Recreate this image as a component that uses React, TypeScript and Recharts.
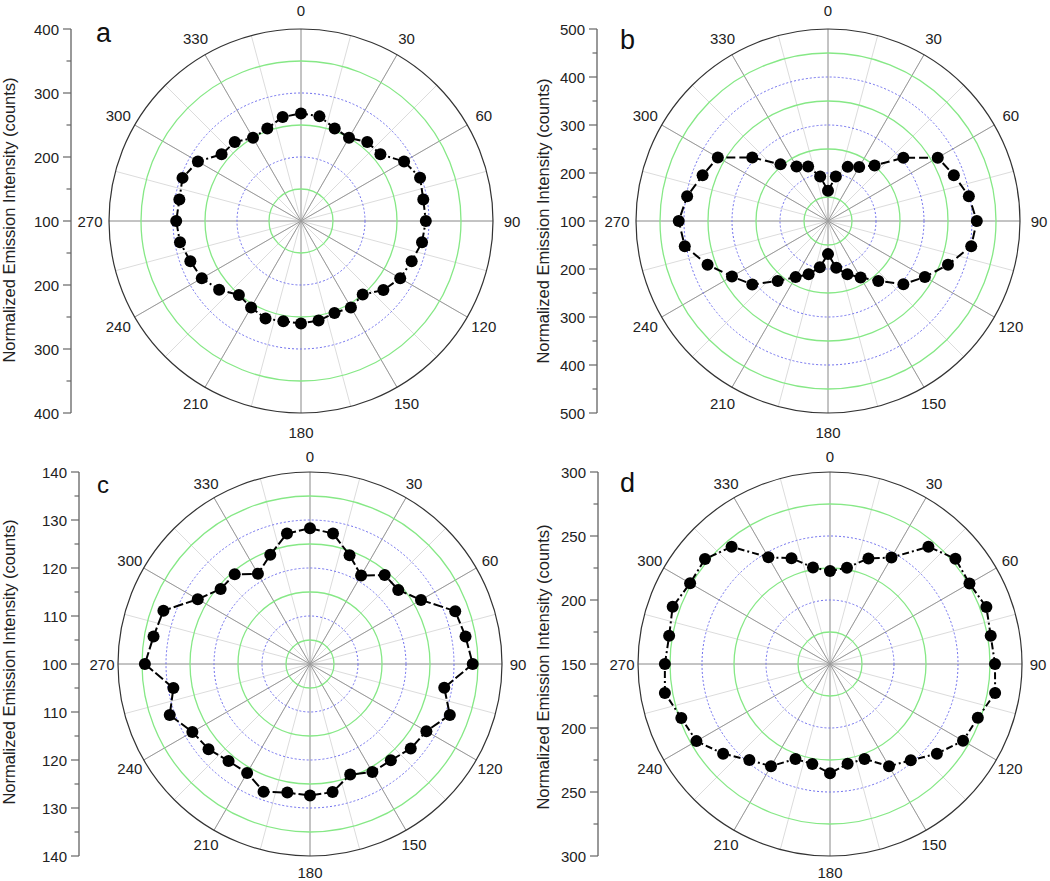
// Polar emission plots (a-d) - RadarChart with numeric angle axis
import {
    RadarChart, Radar, PolarGrid, PolarAngleAxis, PolarRadiusAxis,
    LineChart, YAxis,
} from 'recharts';

const angles = [0, 10, 20, 30, 40, 50, 60, 70, 80, 90, 100, 110, 120, 130, 140, 150, 160, 170,
    180, 190, 200, 210, 220, 230, 240, 250, 260, 270, 280, 290, 300, 310, 320, 330, 340, 350];

const intensityA = [268, 266, 254, 250, 261, 262, 286, 298, 294, 295, 292, 284, 279, 268, 250, 256, 253, 258,
    260, 259, 262, 256, 251, 267, 279, 284, 292, 295, 293, 297, 286, 262, 261, 250, 254, 265];
const intensityB = [163, 194, 220, 230, 251, 305, 364, 379, 398, 410, 403, 366, 333, 305, 263, 236, 218, 199,
    169, 198, 218, 235, 263, 306, 331, 367, 403, 411, 398, 378, 365, 306, 254, 231, 221, 194];
const intensityC = [128.3, 127.6, 124.1, 121.3, 124.2, 124.0, 126.7, 132.2, 132.9, 133.9, 128.4, 131.0, 128.0, 127.4, 126.2, 126.0, 124.5, 127.1,
    127.4, 127.2, 128.3, 126.2, 126.4, 127.6, 128.3, 131.1, 128.9, 134.4, 133.1, 132.5, 127.0, 124.3, 124.4, 121.7, 124.2, 127.6];
const intensityD = [222.7, 226.3, 237.8, 246.0, 269.6, 277.9, 275.8, 280.0, 277.5, 278.9, 281.0, 272.9, 270.0, 259.0, 248.2, 242.2, 228.9, 229.2,
    235.4, 229.4, 228.9, 242.2, 248.0, 259.0, 270.5, 273.6, 281.0, 279.0, 277.6, 280.8, 276.2, 277.5, 269.6, 246.2, 238.0, 226.5];

const spokesMajor = [0, 30, 60, 90, 120, 150, 180, 210, 240, 270, 300, 330];
const spokesMinor = [0, 15, 30, 45, 60, 75, 90, 105, 120, 135, 150, 165, 180, 195, 210, 225, 240, 255, 270, 285, 300, 315, 330, 345];

const ringsMajorA = [200, 300];
const ringsMinorA = [150, 250, 350];
const ringsMajorB = [200, 300, 400];
const ringsMinorB = [150, 250, 350, 450];
const ringsMajorC = [110, 120, 130];
const ringsMinorC = [105, 115, 125, 135];
const ringsMajorD = [200, 250];
const ringsMinorD = [175, 225, 275];

// offsets from the centre value; top half positive, bottom half negative
const scaleTicksA = [-300, -250, -200, -150, -100, -50, 0, 50, 100, 150, 200, 250, 300];
const scaleTicksB = [-400, -350, -300, -250, -200, -150, -100, -50, 0, 50, 100, 150, 200, 250, 300, 350, 400];
const scaleTicksC = [-40, -35, -30, -25, -20, -15, -10, -5, 0, 5, 10, 15, 20, 25, 30, 35, 40];
const scaleTicksD = [-150, -125, -100, -75, -50, -25, 0, 25, 50, 75, 100, 125, 150];

const TITLE = 'Normalized Emission Intensity (counts)';
const R = 192;
const H = 441;

interface PanelProps {
    letter: string;
    letterSize: number;
    letterLeft: number;
    letterTop: number;
    left: number;
    top: number;
    width: number;
    cx: number;
    cy: number;
    axisX: number;
    titleX: number;
    titleY: number;
    labelGap: number;
    values: number[];
    range: [number, number];
    ringsMajor: number[];
    ringsMinor: number[];
    scaleTicks: number[];
    labelStep: number;
    dash: string;
}

const renderDot = (props: any) => (
    <circle key={`dot-${props.index}`} cx={props.cx} cy={props.cy} r={6} fill="#000" stroke="none" />
);

function Panel(p: PanelProps) {
    const rows = angles.map((angle, i) => ({ angle, value: p.values[i] }));
    const span = p.range[1] - p.range[0];
    const scaleRows = p.scaleTicks.map((t) => ({ t }));

    const renderScaleTick = (props: any) => {
        const v = props.payload.value;
        const major = v % p.labelStep === 0;
        const y = props.y;
        return (
            <g>
                <line x1={p.axisX - (major ? 8 : 4.5)} x2={p.axisX} y1={y} y2={y} stroke="#666" strokeWidth={1.2} />
                {major && (
                    <text x={p.axisX - 12} y={y} textAnchor="end" dominantBaseline="central" fontSize={15} fill="#222">
                        {Math.abs(v) + p.range[0]}
                    </text>
                )}
            </g>
        );
    };

    const renderAngleTick = (props: any) => (
        <text x={props.x} y={props.y} textAnchor="middle" dominantBaseline="central" fontSize={15} fill="#222">
            {props.payload.value}
        </text>
    );

    const renderTitle = () => (
        <text
            x={p.titleX}
            y={p.titleY}
            transform={`rotate(-90 ${p.titleX} ${p.titleY})`}
            textAnchor="middle"
            dominantBaseline="central"
            fontSize={16.5}
            fill="#222"
        >
            {TITLE}
        </text>
    );

    return (
        <div style={{ position: 'absolute', left: p.left, top: p.top, width: p.width, height: H }}>
            <div style={{ position: 'absolute', left: 0, top: 0 }}>
                <LineChart
                    width={p.axisX + 10}
                    height={H}
                    data={scaleRows}
                    margin={{ top: p.cy - R, bottom: H - (p.cy + R), left: 0, right: 9 }}
                >
                    <YAxis
                        dataKey="t"
                        type="number"
                        domain={[-span, span]}
                        ticks={p.scaleTicks}
                        interval={0}
                        width={p.axisX}
                        tickLine={false}
                        axisLine={{ stroke: '#777', strokeWidth: 1.5 }}
                        tick={renderScaleTick}
                        label={{ content: renderTitle }}
                    />
                </LineChart>
            </div>
            <div style={{ position: 'absolute', left: 0, top: 0 }}>
                <RadarChart
                    width={p.width}
                    height={H}
                    cx={p.cx}
                    cy={p.cy}
                    outerRadius={R}
                    data={rows}
                    margin={{ top: 0, right: 0, bottom: 0, left: 0 }}
                >
                    <PolarAngleAxis angleAxisId="minor" dataKey="angle" type="number" domain={[0, 360]}
                        ticks={spokesMinor} tick={false} tickLine={false} axisLine={false} />
                    <PolarAngleAxis angleAxisId="major" dataKey="angle" type="number" domain={[0, 360]}
                        ticks={spokesMajor} tick={renderAngleTick} tickLine={false} tickSize={p.labelGap}
                        axisLineType="circle" axisLine={{ stroke: '#333', strokeWidth: 1.2 }} />
                    <PolarRadiusAxis radiusAxisId="minor" type="number" domain={p.range} ticks={p.ringsMinor}
                        tick={false} axisLine={false} />
                    <PolarRadiusAxis radiusAxisId="major" type="number" domain={p.range} ticks={p.ringsMajor}
                        tick={false} axisLine={false} />
                    <PolarGrid angleAxisId="minor" radiusAxisId="major" gridType="circle" polarRadius={[]}
                        stroke="#dcdcdc" strokeWidth={1} />
                    <PolarGrid angleAxisId="major" radiusAxisId="major" gridType="circle" polarRadius={[]}
                        stroke="#9a9a9a" strokeWidth={1} />
                    <PolarGrid angleAxisId="major" radiusAxisId="minor" gridType="circle" radialLines={false}
                        stroke="#86e886" strokeWidth={1.3} />
                    <PolarGrid angleAxisId="major" radiusAxisId="major" gridType="circle" radialLines={false}
                        stroke="#7070ee" strokeWidth={1} strokeDasharray="2 2" />
                    {/* invisible copy so the minor radius axis gets a scale */}
                    <Radar
                        angleAxisId="minor"
                        radiusAxisId="minor"
                        dataKey="value"
                        stroke="none"
                        fill="none"
                        fillOpacity={0}
                        dot={false}
                        legendType="none"
                        isAnimationActive={false}
                    />
                    <Radar
                        angleAxisId="major"
                        radiusAxisId="major"
                        dataKey="value"
                        stroke="#000"
                        strokeWidth={2}
                        strokeDasharray={p.dash}
                        fill="none"
                        fillOpacity={0}
                        dot={renderDot}
                        isAnimationActive={false}
                    />
                </RadarChart>
            </div>
            <div
                style={{
                    position: 'absolute',
                    left: p.letterLeft,
                    top: p.letterTop,
                    fontSize: p.letterSize,
                    lineHeight: 1,
                    color: '#111',
                }}
            >
                {p.letter}
            </div>
        </div>
    );
}

export default function App() {
    return (
        <div
            style={{
                position: 'absolute',
                left: 0,
                top: 0,
                width: 1050,
                height: 881,
                background: '#fff',
                overflow: 'hidden',
                fontFamily: '"Liberation Sans", Arial, sans-serif',
            }}
        >
            <Panel letter="a" letterSize={27} letterLeft={96} letterTop={20} left={0} top={0} width={525}
                cx={301} cy={221} axisX={71} titleX={9} titleY={220} labelGap={19}
                values={intensityA} range={[100, 400]} ringsMajor={ringsMajorA} ringsMinor={ringsMinorA}
                scaleTicks={scaleTicksA} labelStep={100} dash="7 3 2 3" />
            <Panel letter="b" letterSize={27} letterLeft={95} letterTop={27} left={525} top={0} width={525}
                cx={303} cy={221} axisX={72} titleX={18} titleY={221} labelGap={19}
                values={intensityB} range={[100, 500]} ringsMajor={ringsMajorB} ringsMinor={ringsMinorB}
                scaleTicks={scaleTicksB} labelStep={100} dash="9 4" />
            <Panel letter="c" letterSize={24} letterLeft={97} letterTop={33} left={0} top={440} width={545}
                cx={310} cy={224} axisX={79} titleX={9} titleY={222} labelGap={16}
                values={intensityC} range={[100, 140]} ringsMajor={ringsMajorC} ringsMinor={ringsMinorC}
                scaleTicks={scaleTicksC} labelStep={10} dash="10 3" />
            <Panel letter="d" letterSize={27} letterLeft={95} letterTop={30} left={525} top={440} width={525}
                cx={305} cy={224} axisX={73} titleX={18} titleY={227} labelGap={16}
                values={intensityD} range={[150, 300]} ringsMajor={ringsMajorD} ringsMinor={ringsMinorD}
                scaleTicks={scaleTicksD} labelStep={50} dash="7 3 2 3" />
        </div>
    );
}
